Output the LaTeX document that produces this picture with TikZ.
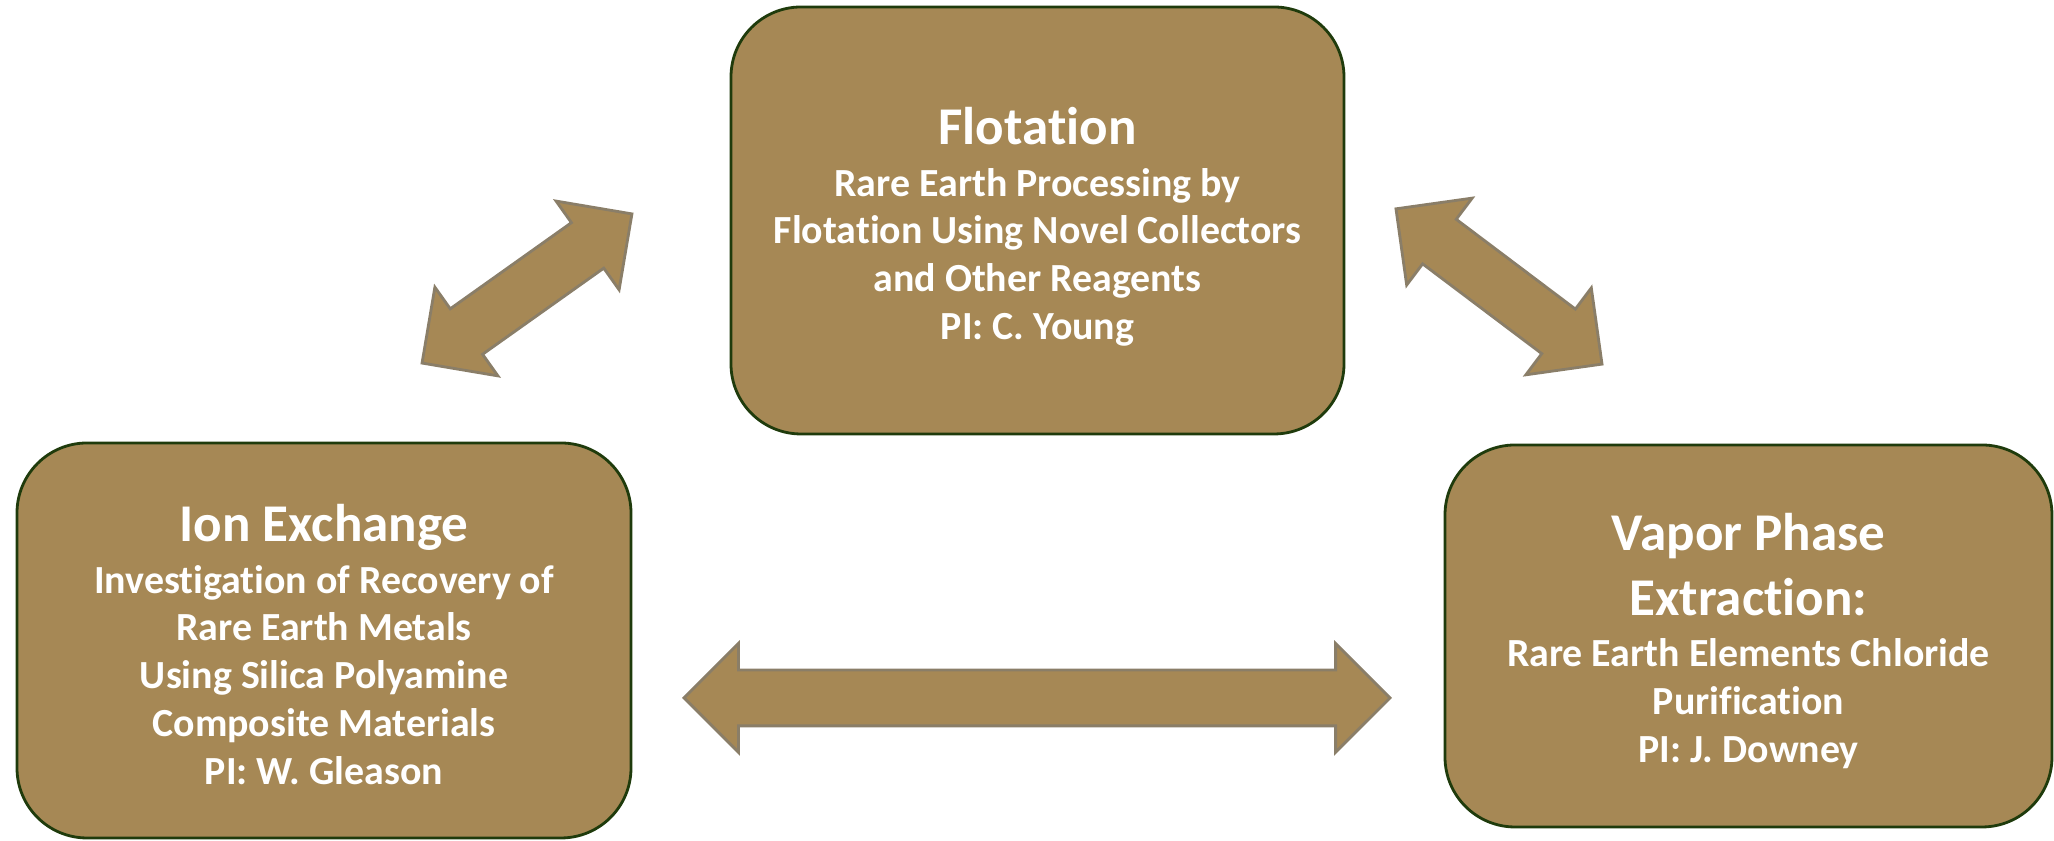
\documentclass[tikz,border=0pt]{standalone}
\usepackage{fontspec}
\setmainfont{Carlito}[Ligatures={NoCommon,NoContextual}]
\usetikzlibrary{positioning,shapes.arrows}

\definecolor{tan}{RGB}{166,136,85}
\definecolor{rimgreen}{RGB}{31,59,12}
\definecolor{arrowrim}{RGB}{138,126,104}
\newcommand{\titlesize}{\fontsize{15.1pt}{18.4pt}\selectfont}

\begin{document}
\begin{tikzpicture}[
    card/.style={draw=rimgreen, line width=0.8pt, fill=tan, rounded corners=0.7cm},
    cardtext/.style={text=white, font=\bfseries\fontsize{11.35pt}{13.6pt}\selectfont, align=center, inner sep=0pt},
    link/.style={double arrow, draw=arrowrim, line width=0.8pt, fill=tan, minimum width=1.06cm,
        double arrow head extend=0.265cm, inner xsep=0pt, inner ysep=0.265cm}
]
                \useasboundingbox (0,0) rectangle (20.54,8.41);

                % Flotation
                \node[card, minimum width=6.13cm, minimum height=4.27cm] (flot) at (10.375,6.205) {};
                \node[cardtext, below=1.01cm of flot.north] (flottext) {{\titlesize Flotation}\\[1.1pt]
                    Rare Earth Processing by\\ Flotation Using Novel Collectors\\ and Other Reagents\\ PI: C. Young};

                % Ion exchange
                \node[card, minimum width=6.14cm, minimum height=3.95cm] (ionx) at (3.24,2.005) {};
                \node[cardtext, below=0.62cm of ionx.north] (ionxtext) {{\titlesize Ion Exchange}\\[1.1pt]
                    Investigation of Recovery of\\ Rare Earth Metals\\ Using Silica Polyamine\\ Composite Materials\\ PI: W. Gleason};

                % Vapor phase extraction
                \node[card, minimum width=6.07cm, minimum height=3.82cm] (vpe) at (17.485,2.05) {};
                \node[cardtext, below=0.69cm of vpe.north] (vpetext) {{\titlesize Vapor Phase}\\[4.8pt]
                    {\titlesize Extraction:}\\[1.1pt] Rare Earth Elements Chloride\\ Purification\\ PI: J. Downey};

                % Links
                \node[link, rotate=35.4, minimum height=2.575cm] (flotionx) at (5.27,5.525) {};
                \node[link, rotate=-37, minimum height=2.58cm] (flotvpe) at (14.99,5.545) {};
                \node[link, minimum height=7.06cm] (ionxvpe) at (10.37,1.43) {};
            \end{tikzpicture}
\end{document}
